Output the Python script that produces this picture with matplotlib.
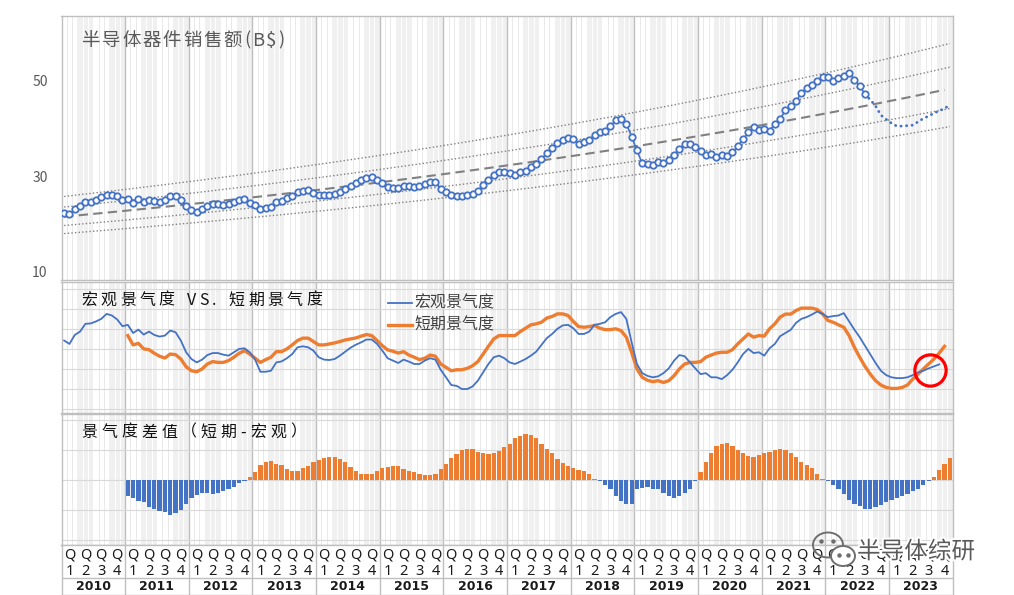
import numpy as np
import matplotlib
matplotlib.use("Agg")
import matplotlib.pyplot as plt
from matplotlib.patches import Ellipse
import matplotlib.patheffects as pe

plt.rcParams['font.family'] = ['Noto Sans CJK SC', 'DejaVu Sans']

# ---------------- data ----------------
years = [str(y) for y in range(2010, 2024)]
quarter_labels = ['1', '2', '3', '4']

# monthly semiconductor sales (B$), Jan 2010 onward
sales_actual = [
    22.3, 22.1, 23.1, 23.7, 24.6, 24.7, 25.0, 25.6, 26.1, 26.1, 25.9, 25.0,
    25.2, 24.5, 25.2, 24.7, 25.0, 24.8, 24.7, 25.0, 25.8, 25.8, 25.0, 23.7,
    23.0, 22.6, 23.1, 23.8, 24.2, 24.2, 24.0, 24.2, 24.7, 25.0, 25.3, 24.5,
    24.0, 23.1, 23.3, 23.5, 24.7, 24.9, 25.4, 25.9, 26.7, 27.0, 27.1, 26.5,
    26.1, 26.1, 26.1, 26.2, 26.7, 27.3, 28.0, 28.6, 29.3, 29.6, 29.8, 29.3,
    28.6, 27.7, 27.5, 27.5, 28.0, 27.9, 27.7, 27.9, 28.4, 28.9, 28.9, 27.4,
    26.8, 26.0, 25.9, 25.8, 26.0, 26.2, 27.0, 28.1, 29.3, 30.3, 31.0, 31.0,
    30.6, 30.3, 30.9, 31.2, 32.0, 32.5, 33.6, 34.9, 35.9, 36.9, 37.6, 38.0,
    37.8, 36.7, 37.1, 37.6, 38.7, 39.2, 39.4, 40.6, 41.7, 42.0, 41.0, 38.3,
    35.4, 32.7, 32.5, 32.4, 32.9, 32.7, 33.4, 34.5, 35.7, 36.8, 36.8, 36.1,
    35.2, 34.5, 34.7, 34.1, 34.5, 34.3, 35.0, 36.3, 37.7, 39.2, 40.3, 39.6,
    39.8, 39.5, 41.0, 42.0, 43.8, 44.7, 45.7, 47.4, 48.4, 49.1, 50.0, 50.7,
    50.7, 50.0, 50.5, 50.9, 51.7, 50.2, 48.9, 47.2]
sales_forecast = [46.0, 44.7, 42.8, 41.9, 41.1, 40.5, 40.5, 40.6, 40.7,
                  41.4, 42.1, 42.6, 43.2, 43.7, 44.2, 44.9]

# macro sentiment index (blue), Jan 2010 onward
macro_index = [
    3.42, 3.25, 3.70, 3.87, 4.26, 4.28, 4.38, 4.51, 4.76, 4.68, 4.48, 4.14,
    4.21, 3.80, 3.97, 3.72, 3.87, 3.70, 3.62, 3.67, 3.92, 3.84, 3.42, 2.83,
    2.49, 2.32, 2.46, 2.69, 2.79, 2.79, 2.71, 2.66, 2.83, 3.00, 3.03, 2.83,
    2.46, 1.85, 1.85, 1.90, 2.32, 2.37, 2.53, 2.74, 3.08, 3.13, 3.08, 2.91,
    2.58, 2.46, 2.44, 2.49, 2.66, 2.86, 3.06, 3.21, 3.33, 3.47, 3.47, 3.25,
    2.91, 2.53, 2.41, 2.29, 2.46, 2.36, 2.24, 2.24, 2.41, 2.53, 2.46, 1.95,
    1.57, 1.18, 1.14, 0.98, 0.98, 1.11, 1.40, 1.82, 2.24, 2.58, 2.66, 2.53,
    2.32, 2.24, 2.36, 2.49, 2.66, 2.86, 3.20, 3.54, 3.75, 4.01, 4.18, 4.21,
    4.04, 3.75, 3.75, 3.87, 4.21, 4.26, 4.34, 4.60, 4.76, 4.85, 4.51, 3.33,
    2.24, 1.78, 1.64, 1.57, 1.62, 1.78, 2.02, 2.41, 2.69, 2.63, 2.32, 2.02,
    1.73, 1.78, 1.57, 1.57, 1.48, 1.68, 1.95, 2.32, 2.74, 3.00, 2.79, 2.83,
    2.66, 3.03, 3.25, 3.64, 3.80, 3.96, 4.31, 4.51, 4.60, 4.73, 4.88, 4.76,
    4.60, 4.65, 4.68, 4.80, 4.38, 3.97, 3.59, 3.16, 2.74, 2.29, 1.90, 1.68,
    1.57, 1.53, 1.53, 1.57, 1.68, 1.82, 1.90, 2.02, 2.12, 2.22]

# short-term sentiment index (orange), Jan 2011 onward
short_start = 12
short_index = [
    3.67, 3.20, 3.28, 3.00, 2.96, 2.78, 2.63, 2.54, 2.74, 2.71, 2.49, 2.10,
    1.90, 1.85, 1.99, 2.24, 2.36, 2.32, 2.32, 2.41, 2.58, 2.78, 2.91, 2.74,
    2.53, 2.32, 2.46, 2.58, 2.86, 2.86, 3.00, 3.20, 3.42, 3.54, 3.54, 3.37,
    3.20, 3.20, 3.25, 3.30, 3.37, 3.45, 3.50, 3.55, 3.64, 3.72, 3.67, 3.42,
    3.16, 2.95, 2.88, 2.79, 2.86, 2.69, 2.58, 2.46, 2.53, 2.69, 2.63, 2.24,
    2.07, 1.90, 1.95, 1.95, 2.02, 2.15, 2.36, 2.74, 3.13, 3.50, 3.67, 3.67,
    3.67, 3.67, 3.87, 4.04, 4.21, 4.26, 4.34, 4.55, 4.63, 4.76, 4.76, 4.68,
    4.38, 4.12, 4.09, 4.12, 4.18, 4.04, 3.97, 3.97, 4.01, 3.92, 3.59, 2.83,
    1.99, 1.57, 1.42, 1.35, 1.40, 1.31, 1.40, 1.65, 1.99, 2.24, 2.32, 2.32,
    2.36, 2.58, 2.69, 2.79, 2.83, 2.83, 2.96, 3.25, 3.50, 3.75, 3.59, 3.67,
    3.64, 4.01, 4.26, 4.60, 4.75, 4.75, 4.93, 5.05, 5.05, 5.05, 4.98, 4.76,
    4.43, 4.34, 4.21, 4.09, 3.67, 3.08, 2.58, 2.12, 1.73, 1.40, 1.18, 1.06,
    1.01, 1.01, 1.06, 1.18, 1.48, 1.73, 1.99, 2.24, 2.49, 2.79, 3.13]

# sentiment difference (short - macro), Jan 2011 onward
diff_start = 12
diff_values = [
    -0.56, -0.61, -0.73, -0.75, -0.90, -0.98, -1.04, -1.09, -1.17, -1.12, -1.03, -0.81,
    -0.61, -0.53, -0.44, -0.44, -0.47, -0.45, -0.39, -0.33, -0.25, -0.13, -0.06,
    0.09, 0.26, 0.48, 0.57, 0.63, 0.52, 0.48, 0.35, 0.29, 0.28, 0.37, 0.46,
    0.57, 0.65, 0.71, 0.74, 0.76, 0.69, 0.57, 0.43, 0.28, 0.20, 0.18, 0.18,
    0.28, 0.37, 0.43, 0.45, 0.45, 0.35, 0.29, 0.24, 0.20, 0.15, 0.15, 0.17,
    0.35, 0.52, 0.71, 0.84, 0.97, 1.02, 1.01, 0.93, 0.88, 0.85, 0.90, 0.96,
    1.10, 1.18,
    1.37, 1.46, 1.51, 1.48, 1.37, 1.20, 1.01, 0.87, 0.70, 0.56, 0.44, 0.37,
    0.33, 0.28, 0.18,
    0.03, -0.05, -0.19, -0.33, -0.56, -0.71, -0.80, -0.83, -0.30, -0.27, -0.25, -0.33,
    -0.33, -0.44, -0.56, -0.60, -0.56, -0.46, -0.33, -0.05,
    0.26, 0.59, 0.87, 1.11, 1.20, 1.23, 1.12, 0.98, 0.87, 0.79, 0.76, 0.83,
    0.87, 0.92, 0.98, 1.01, 0.98, 0.89, 0.76, 0.59, 0.48, 0.37, 0.20, 0.03,
    -0.06, -0.19, -0.32, -0.49, -0.67, -0.80, -0.89, -0.97, -0.97, -0.93, -0.86, -0.74,
    -0.67, -0.60, -0.54, -0.47, -0.38, -0.30, -0.19, -0.04,
    0.09, 0.31, 0.51, 0.72]

title_sales = '半导体器件销售额(B$)'
title_mid = '宏观景气度 VS. 短期景气度'
title_bot = '景气度差值（短期-宏观）'
legend_labels = ['宏观景气度', '短期景气度']
watermark = '半导体综研'
highlight_point = (163.2, 1.95)   # red circle annotation (month index, index value)
band_sigmas = [-2, -1, 1, 2]

# ---------------- style ----------------
BLUE = '#4472C4'
ORANGE = '#ED7D31'
EDGE = '#BFBFBF'
GRID = '#D9D9D9'
SHADE = '#F0F0F0'
TREND = '#808080'

W, H = 1014, 595
fig = plt.figure(figsize=(W / 100, H / 100), dpi=100)
fig.patch.set_facecolor('white')


def rect(x0, y0, x1, y1):
    return [x0 / W, 1 - y1 / H, (x1 - x0) / W, (y1 - y0) / H]


n = len(years) * 12
XL = (-0.5, n - 0.5)

ax1 = fig.add_axes(rect(61.5, 16.3, 952.5, 280))
ax2 = fig.add_axes(rect(61.5, 281.5, 952.5, 412.5))
ax3 = fig.add_axes(rect(61.5, 413.5, 952.5, 545))
ax4 = fig.add_axes(rect(61.5, 545, 952.5, 594.5))


def background(ax):
    for q in range(n // 3):
        if q % 2 == 1:
            ax.axvspan(3 * q - 0.5, 3 * q + 2.5, color=SHADE, lw=0, zorder=0)
    for m in range(1, n):
        if m % 12 == 0:
            ax.axvline(m - 0.5, color=EDGE, lw=1.0, zorder=1)
        elif m % 3 != 0:
            shaded = (m // 3) % 2 == 1
            ax.axvline(m - 0.5, color='white' if shaded else '#E9E9E9',
                       lw=0.7, zorder=0.5)
    ax.set_xlim(*XL)
    ax.set_xticks([])
    for s in ax.spines.values():
        s.set_color(EDGE)
        s.set_linewidth(1.0)


for ax in (ax1, ax2, ax3):
    background(ax)

# ---- top panel: sales ----
x_act = np.arange(len(sales_actual))
ax1.plot(x_act, sales_actual, color=BLUE, lw=1.2, marker='o', ms=4.6,
         mfc='white', mec=BLUE, mew=1.3, zorder=5)
x_fc = np.arange(len(sales_actual) - 1, len(sales_actual) + len(sales_forecast))
y_fc = [sales_actual[-1]] + sales_forecast
ax1.plot(x_fc, y_fc, color=BLUE, lw=2.0, ls=(0, (0.1, 1.9)),
         dash_capstyle='round', zorder=4)

# exponential trend fitted to the actual sales, with +-1 and +-2 sigma bands
y_log = np.log(np.array(sales_actual))
b, a = np.polyfit(x_act, y_log, 1)
sig = np.std(y_log - (a + b * x_act))
xt = np.arange(0, n - 1)
ax1.plot(xt, np.exp(a + b * xt), color=TREND, lw=1.5, ls=(0, (4.5, 2.5)), zorder=3)
xb = np.arange(0, n)
for k in band_sigmas:
    ax1.plot(xb, np.exp(a + b * xb + k * sig), color=TREND, lw=1.0,
             ls=(0, (1, 1.6)), zorder=3)

ax1.set_ylim(8.31, 63.47)
ax1.set_yticks([10, 30, 50])
ax1.tick_params(axis='y', length=0, pad=10, labelsize=10, labelcolor='#595959')

# ---- middle panel: sentiment ----
ax2.set_ylim(-0.2, 6.39)
for v in range(0, 7):
    ax2.axhline(v, color=GRID, lw=0.8, zorder=1)
ax2.set_yticks([])
ax2.plot(np.arange(len(macro_index)), macro_index, color=BLUE, lw=1.3, zorder=4)
ax2.plot(np.arange(short_start, short_start + len(short_index)), short_index,
         color=ORANGE, lw=2.4, zorder=3)
ax2.plot([highlight_point[0]], [highlight_point[1]], marker='o', ms=22.5,
         mfc='none', mec='#FF0000', mew=2.3, zorder=6)

# ---- bottom panel: difference bars ----
ax3.set_ylim(-2.18, 2.2)
for v in range(-2, 3):
    ax3.axhline(v, color=GRID, lw=0.8, zorder=1)
ax3.set_yticks([])
x_d = np.arange(diff_start, diff_start + len(diff_values))
cols = [ORANGE if v > 0 else BLUE for v in diff_values]
ax3.bar(x_d, diff_values, width=0.8, color=cols, lw=0, zorder=2)

# ---- category table axis ----
ax4.set_xlim(*XL)
ax4.set_ylim(0, 1)
ax4.set_xticks([])
ax4.set_yticks([])
for s in ax4.spines.values():
    s.set_color(EDGE)
    s.set_linewidth(1.0)
ax4.axhline(0.327, color=EDGE, lw=1.0)
for k in range(1, len(years)):
    ax4.axvline(12 * k - 0.5, color=EDGE, lw=1.0)
for k, yr in enumerate(years):
    ax4.text(12 * k + 5.5, 0.16, yr, ha='center', va='center', fontsize=9,
             fontweight='bold', color='#1A1A1A', family='DejaVu Sans')
    for q, ql in enumerate(quarter_labels):
        xc = 12 * k + 3 * q + 1
        ax4.text(xc, 0.79, 'Q', ha='center', va='center', fontsize=10.5,
                 fontweight='bold', color='#1A1A1A', family='Noto Sans')
        ax4.text(xc, 0.46, ql, ha='center', va='center', fontsize=10.5,
                 fontweight='bold', color='#1A1A1A', family='Noto Sans')

# ---- overlay for titles / legend / watermark ----
ov = fig.add_axes([0, 0, 1, 1], zorder=20)
ov.set_xlim(0, W)
ov.set_ylim(H, 0)
ov.axis('off')
ov.patch.set_alpha(0)
renderer = fig.canvas.get_renderer()


def spaced(x, y, s, gap, size, **kw):
    for ch in s:
        if ch == ' ':
            x += size * 1.389 * 0.35 + gap
            continue
        t = ov.text(x, y, ch, va='center', ha='left', fontsize=size, **kw)
        x += t.get_window_extent(renderer).width + gap


spaced(81.5, 40.7, title_sales, 1.8, 13.3, color='#595959', fontweight='medium')
spaced(81.5, 300.3, title_mid, 3.3, 11.5, color='#111111', fontweight='medium')
spaced(81.5, 432.0, title_bot, 3.9, 11.5, color='#111111', fontweight='medium')

ov.plot([388, 412], [302.7, 302.7], color=BLUE, lw=1.3)
ov.plot([388, 412], [325.3, 325.3], color=ORANGE, lw=2.4)
ov.text(414, 302.7, legend_labels[0], va='center', ha='left', fontsize=11.5, color='#404040')
ov.text(414, 325.3, legend_labels[1], va='center', ha='left', fontsize=11.5, color='#404040')

halo = [pe.withStroke(linewidth=3, foreground='white')]
ov.add_patch(Ellipse((828, 545), 30, 25, fill=False, ec='#6E6E6E', lw=1.4))
ov.add_patch(Ellipse((843, 556), 24, 20, fc='white', ec='#6E6E6E', lw=1.4))
for px, py in [(821, 541), (833, 541), (839, 555), (848, 555)]:
    ov.plot(px, py, marker='o', ms=2.2, color='#6E6E6E')
ov.text(857, 552, watermark, va='center', ha='left', fontsize=17,
        color='#5A5A5A', path_effects=halo)

fig.savefig('out.png', dpi=100, facecolor='white')
